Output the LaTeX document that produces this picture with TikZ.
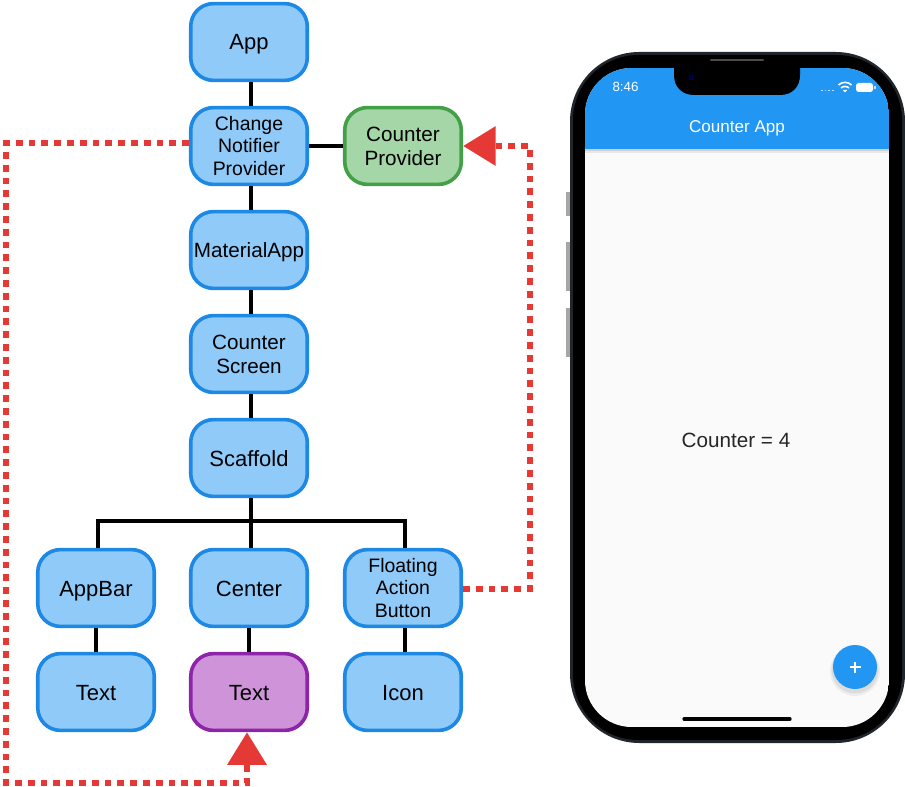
\documentclass[tikz,border=0pt]{standalone}
\usepackage{fontspec}
\setmainfont{Liberation Sans}
\usetikzlibrary{arrows.meta}

\definecolor{widgetfill}{HTML}{90CAF9}
\definecolor{widgetline}{HTML}{1E88E5}
\definecolor{providerfill}{HTML}{A5D6A7}
\definecolor{providerline}{HTML}{43A047}
\definecolor{textfill}{HTML}{CE93D8}
\definecolor{textline}{HTML}{8E24AA}
\definecolor{watchred}{HTML}{E53935}
\definecolor{appblue}{HTML}{2196F3}
\definecolor{phoneedge}{HTML}{20262C}
\definecolor{screenbg}{HTML}{FAFAFA}

\tikzset{
  widget/.style={draw=widgetline, fill=widgetfill, line width=2.7pt, rounded corners=17pt,
    minimum width=87.4pt, minimum height=57.6pt, inner sep=0pt, align=center,
    font=\fontsize{16.5}{18}\selectfont},
  provider/.style={widget, draw=providerline, fill=providerfill},
  usedtext/.style={widget, draw=textline, fill=textfill},
  oneline/.style={text height=12pt, text depth=0pt},
  small/.style={font=\fontsize{14.6}{17}\selectfont},
  medium/.style={font=\fontsize{15.5}{18}\selectfont},
  link/.style={line width=2.4pt, black},
  watch/.style={line width=5pt, watchred, dash pattern=on 5pt off 4.6pt},
  notify/.style={watch, -{Triangle[length=24.5pt,width=28.5pt]}}
}

\begin{document}
\begin{tikzpicture}[x=0.75pt, y=-0.75pt]

\useasboundingbox (0,0) rectangle (905,787);

\node [widget, oneline] (app) at (249,42) {App};
\node [widget, small] (notifier) at (249,146) {Change\\Notifier\\Provider};
\node [provider, medium] (counter) at (403,146) {Counter\\Provider};
\node [widget, medium, oneline] (material) at (249,250) {MaterialApp};
\node [widget, medium] (screen) at (249,354) {Counter\\Screen};
\node [widget, oneline] (scaffold) at (249,458) {Scaffold};
\node [widget, oneline] (appbar) at (96,588) {AppBar};
\node [widget, oneline] (center) at (249,588) {Center};
\node [widget, small] (fab) at (403,588) {Floating\\Action\\Button};
\node [widget, oneline] (bartext) at (96,692) {Text};
\node [usedtext, oneline] (centertext) at (249,692) {Text};
\node [widget, oneline] (icon) at (403,692) {Icon};

\coordinate (bus) at (251,521);
\coordinate (leftturn) at (6,143);
\coordinate (leftfoot) at (6,783);
\coordinate (rightturn) at (530,589);
\coordinate (righttop) at (530,146);

\draw[link] ([xshift=1.5pt]app.south)--([xshift=1.5pt]notifier.north);
\draw[link] ([xshift=1.5pt]notifier.south)--([xshift=1.5pt]material.north);
\draw[link] ([xshift=1.5pt]material.south)--([xshift=1.5pt]screen.north);
\draw[link] ([xshift=1.5pt]screen.south)--([xshift=1.5pt]scaffold.north);
\draw[link] (notifier.east)--(counter.west);
\draw[link] ([xshift=1.5pt]scaffold.south)--(bus);
\draw[link] ([xshift=1.5pt]appbar.north)|-(bus)-|([xshift=1.5pt]fab.north);
\draw[link] ([xshift=1.5pt]center.north)--(bus);
\draw[link] (appbar.south)--(bartext.north);
\draw[link] (center.south)--(centertext.north);
\draw[link] ([xshift=1.5pt]fab.south)--([xshift=1.5pt]icon.north);

\draw[notify] (notifier.west |- leftturn)--(leftturn)--(leftfoot)-|([xshift=-1.5pt]centertext.south);
\draw[notify] (fab.east |- rightturn)--(rightturn)--(righttop)--(counter.east);

\fill[gray!70] (566,192) rectangle (570,216);
\fill[gray!70] (566,242) rectangle (570,291);
\fill[gray!70] (566,308) rectangle (570,357);

\fill[phoneedge, rounded corners=52pt] (570,52) rectangle (905,743);
\fill[black, rounded corners=49pt] (573,55) rectangle (902,740);

\begin{scope}
\clip[rounded corners=35pt] (585,68) rectangle (889,727);
\fill[screenbg] (585,68) rectangle (889,727);
\fill[appblue] (585,68) rectangle (889,149);
\fill[black, opacity=0.16] (585,149) rectangle (889,151);
\fill[black, opacity=0.07] (585,151) rectangle (889,153);
\end{scope}

\fill[black] (674,66)--(674,75) .. controls (674,87) and (682,95) .. (694,95)
--(780,95) .. controls (792,95) and (800,87) .. (800,75)--(800,66)--cycle;
\draw[line width=1.6pt, black!70, line cap=round] (711,60)--(763,60);
\fill[black!60!blue] (691,78) circle (2.5);
\fill[black] (691,78) circle (1.2);

\node [white, font=\fontsize{10}{12}\selectfont] (clock) at (625.5,87) {8:46};
\node [white, font=\fontsize{12.8}{15}\selectfont] (title) at (737,128) {Counter App};
\node [black!85, font=\fontsize{15.5}{18}\selectfont] (count) at (736,440) {Counter = 4};

\draw[white!70!appblue, line width=1.2pt, dash pattern=on 1.2pt off 1.6pt] (821,90.5)--(835,90.5);
\draw[white, line width=1.2pt] (838.5,85) .. controls (842,81.5) and (848,81.5) .. (851.5,85);
\draw[white, line width=1.2pt] (841,88) .. controls (843,86) and (847,86) .. (849,88);
\fill[white] (845,92.5)--(842.8,90)--(847.2,90)--cycle;
\fill[white, rounded corners=2pt] (856,83) rectangle (873,92);
\fill[white!70!appblue] (874,86) rectangle (875.5,89);

\draw[black, line width=2.4pt, line cap=round] (684,719)--(790,719);

\fill[black, opacity=0.05] (855,671) circle (25);
\fill[black, opacity=0.07] (855,670) circle (23.5);
\fill[appblue] (855,667) circle (22);
\draw[white, line width=1pt] (849.5,667)--(860.5,667);
\draw[white, line width=1pt] (855,661.5)--(855,672.5);

\end{tikzpicture}
\end{document}
